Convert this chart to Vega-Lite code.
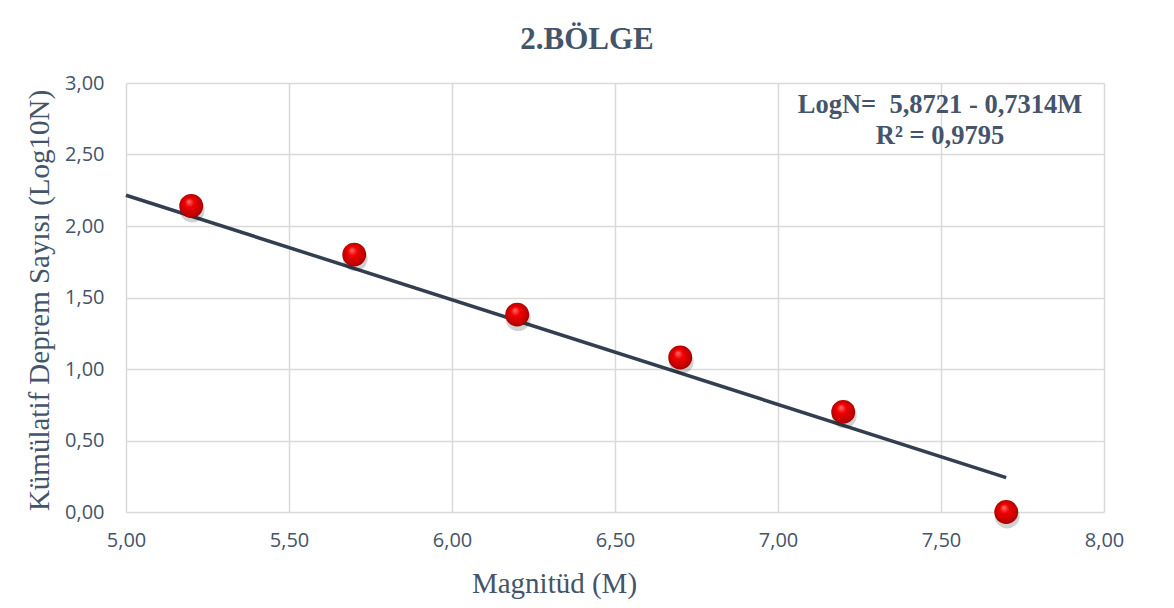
{
  "$schema": "https://vega.github.io/schema/vega-lite/v6.json",
  "autosize": {"type": "none"},
  "padding": {"left": 126, "top": 83, "right": 70, "bottom": 96},
  "width": 978,
  "height": 429,
  "background": "white",
  "config": {
    "locale": {"number": {"decimal": ",", "thousands": ".", "grouping": [3], "currency": ["", ""]}},
    "view": {"stroke": null},
    "axis": {
      "labelFont": "Open Sans",
      "labelFontSize": 20,
      "labelColor": "#44546A",
      "labelFlush": false,
      "titleFont": "Liberation Serif",
      "titleFontWeight": "normal",
      "titleFontSize": 29,
      "titleColor": "#44546A",
      "gridColor": "#D9D9D9",
      "gridWidth": 1.5,
      "domain": false,
      "ticks": false
    }
  },
  "title": {
    "text": "2.BÖLGE",
    "font": "Liberation Serif",
    "fontSize": 31,
    "fontWeight": "bold",
    "color": "#44546A",
    "anchor": "middle",
    "dx": -28,
    "offset": 17
  },
  "datasets": {
    "points": [
      {"M": 5.2, "L": 2.14},
      {"M": 5.7, "L": 1.80},
      {"M": 6.2, "L": 1.38},
      {"M": 6.7, "L": 1.08},
      {"M": 7.2, "L": 0.70},
      {"M": 7.7, "L": 0.00}
    ],
    "trend": [
      {"M": 5.0, "L": 2.2151},
      {"M": 7.7, "L": 0.2403}
    ],
    "note": [
      {"M": 7.497, "L": 2.79, "label": "LogN=\u00a0 5,8721 - 0,7314M\nR² = 0,9795"}
    ]
  },
  "layer": [
    {
      "data": {"name": "trend"},
      "mark": {"type": "line", "color": "#333F50", "strokeWidth": 3.5, "clip": false},
      "encoding": {
        "x": {
          "field": "M", "type": "quantitative",
          "scale": {"domain": [5, 8], "nice": false, "zero": false},
          "axis": {
            "title": "Magnitüd (M)",
            "values": [5, 5.5, 6, 6.5, 7, 7.5, 8],
            "format": ".2f",
            "labelPadding": 18,
            "titleX": 428,
            "titleY": 80,
            "titleAlign": "center",
            "titleBaseline": "alphabetic"
          }
        },
        "y": {
          "field": "L", "type": "quantitative",
          "scale": {"domain": [0, 3], "nice": false},
          "axis": {
            "title": "Kümülatif Deprem Sayısı (Log10N)",
            "values": [0, 0.5, 1, 1.5, 2, 2.5, 3],
            "format": ".2f",
            "labelPadding": 22,
            "titleX": -78,
            "titleY": 217,
            "titleAngle": -90,
            "titleAlign": "center",
            "titleBaseline": "alphabetic"
          }
        }
      }
    },
    {
      "data": {"name": "points"},
      "mark": {"type": "circle", "size": 620, "color": "#000000", "opacity": 0.18, "yOffset": 4, "xOffset": 1, "clip": false},
      "encoding": {
        "x": {"field": "M", "type": "quantitative"},
        "y": {"field": "L", "type": "quantitative"}
      }
    },
    {
      "data": {"name": "points"},
      "mark": {
        "type": "circle",
        "size": 570,
        "opacity": 1,
        "clip": false,
        "fill": {
          "gradient": "radial",
          "x1": 0.4, "y1": 0.3, "r1": 0,
          "x2": 0.5, "y2": 0.5, "r2": 0.55,
          "stops": [
            {"offset": 0, "color": "#FF7070"},
            {"offset": 0.35, "color": "#F00000"},
            {"offset": 0.8, "color": "#C00000"},
            {"offset": 1, "color": "#8A0000"}
          ]
        }
      },
      "encoding": {
        "x": {"field": "M", "type": "quantitative"},
        "y": {"field": "L", "type": "quantitative"}
      }
    },
    {
      "data": {"name": "note"},
      "mark": {
        "type": "text",
        "font": "Liberation Serif",
        "fontSize": 26.5,
        "fontWeight": "bold",
        "color": "#44546A",
        "align": "center",
        "baseline": "alphabetic",
        "lineBreak": "\n",
        "lineHeight": 31
      },
      "encoding": {
        "x": {"field": "M", "type": "quantitative"},
        "y": {"field": "L", "type": "quantitative"},
        "text": {"field": "label"}
      }
    }
  ]
}
